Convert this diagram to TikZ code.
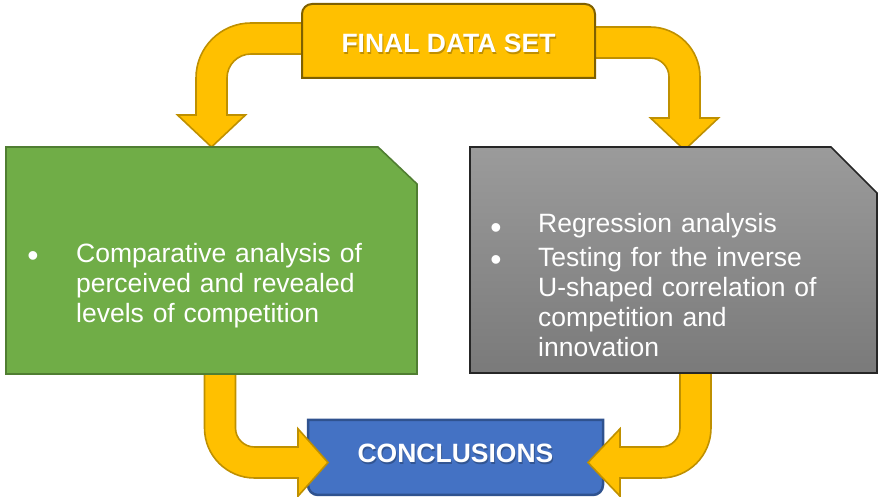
\documentclass[tikz,border=0pt]{standalone}
\usepackage{fontspec}
\setmainfont{Liberation Sans}
\definecolor{gold}{HTML}{FFC000}
\definecolor{goldline}{HTML}{BF9000}
\definecolor{finalline}{HTML}{7F6000}
\definecolor{leafgreen}{HTML}{70AD47}
\definecolor{leafline}{HTML}{507E32}
\definecolor{greytop}{HTML}{9B9B9B}
\definecolor{greybot}{HTML}{7A7A7A}
\definecolor{greyline}{HTML}{262626}
\definecolor{bluefill}{HTML}{4472C4}
\definecolor{blueline}{HTML}{2F528F}
\tikzset{
  blockarrow/.style={fill=gold, draw=goldline, line width=1.6pt, line join=miter},
  bodytext/.style={text=white, inner sep=0pt, font=\fontsize{26.5}{30}\selectfont},
  bullettext/.style={bodytext, anchor=base west, text width=300pt, align=left},
  headtext/.style={text=white, inner sep=0pt, anchor=base, font=\fontsize{26.5}{30}\selectfont\bfseries},
  headshadow/.style={headtext, text=black, opacity=0.25},
  bulletmark/.style={text=white, inner sep=0pt, anchor=base, font=\fontsize{32}{30}\selectfont}
}
\begin{document}
\begin{tikzpicture}[x=1pt,y=1pt]
\useasboundingbox (0,0) rectangle (879,497);

% conclusions box: square top, rounded bottom
\draw[fill=bluefill, draw=blueline, line width=2.5pt]
  (308,77) -- (603,77) -- (603,12) arc[start angle=0,end angle=-90,radius=10]
  -- (318,2) arc[start angle=270,end angle=180,radius=10] -- cycle;
\node[headshadow] at (456.5,32.5) {CONCLUSIONS};
\node[headtext] (concl) at (455.5,34) {CONCLUSIONS};

% arrows from the analysis boxes into the conclusions
\draw[blockarrow] (204.5,128) -- (204.5,69) arc[start angle=180,end angle=270,radius=50]
  -- (298,19) -- (298,0.8) -- (328,34.5) -- (298,68.2) -- (298,50) -- (254.5,50)
  arc[start angle=270,end angle=180,radius=19] -- (235.5,128) -- cycle;
\draw[blockarrow] (711,128) -- (711,69) arc[start angle=0,end angle=-90,radius=50]
  -- (620,19) -- (620,0.8) -- (588,34.5) -- (620,68.2) -- (620,50) -- (661,50)
  arc[start angle=-90,end angle=0,radius=19] -- (680,128) -- cycle;

% arrows from the data set down to the analysis boxes
\draw[blockarrow] (310,474) -- (251,474) arc[start angle=90,end angle=180,radius=55]
  -- (196,382) -- (177.5,382) -- (211.5,350) -- (245.5,382) -- (227,382) -- (227,419)
  arc[start angle=180,end angle=90,radius=24] -- (310,443) -- cycle;
\draw[blockarrow] (587,470) -- (650,470) arc[start angle=90,end angle=0,radius=50]
  -- (700,379) -- (718.5,379) -- (684.5,347) -- (650.5,379) -- (669,379) -- (669,420)
  arc[start angle=0,end angle=90,radius=19] -- (587,439) -- cycle;

% green analysis box with a clipped corner
\draw[fill=leafgreen, draw=leafline, line width=1.6pt]
  (6,123) -- (6,350) -- (378,350) -- (417,313) -- (417,123) -- cycle;
\node[bulletmark] at (33,230.5) {•};
\node[bullettext] (comp) at (76,234)
  {Comparative analysis of\\perceived and revealed\\levels of competition};

% grey analysis box with a clipped corner
\shade[top color=greytop, bottom color=greybot]
  (470,124) -- (470,350) -- (831,350) -- (877,304) -- (877,124) -- cycle;
\draw[draw=greyline, line width=1.6pt]
  (470,124) -- (470,350) -- (831,350) -- (877,304) -- (877,124) -- cycle;
\node[bulletmark] at (496,258.5) {•};
\node[bulletmark] at (496,226.5) {•};
\node[bullettext] (regr) at (538,264) {Regression analysis};
\node[bullettext] (test) at (538,230)
  {Testing for the inverse\\U-shaped correlation of\\competition and\\innovation};

% final data set box: rounded top, square bottom
\draw[fill=gold, draw=finalline, line width=2pt]
  (302,419) -- (302,483) arc[start angle=180,end angle=90,radius=10]
  -- (585,493) arc[start angle=90,end angle=0,radius=10] -- (595,419) -- cycle;
\node[headshadow] at (449.5,442.5) {FINAL DATA SET};
\node[headtext] (final) at (448.5,444) {FINAL DATA SET};
\end{tikzpicture}
\end{document}
